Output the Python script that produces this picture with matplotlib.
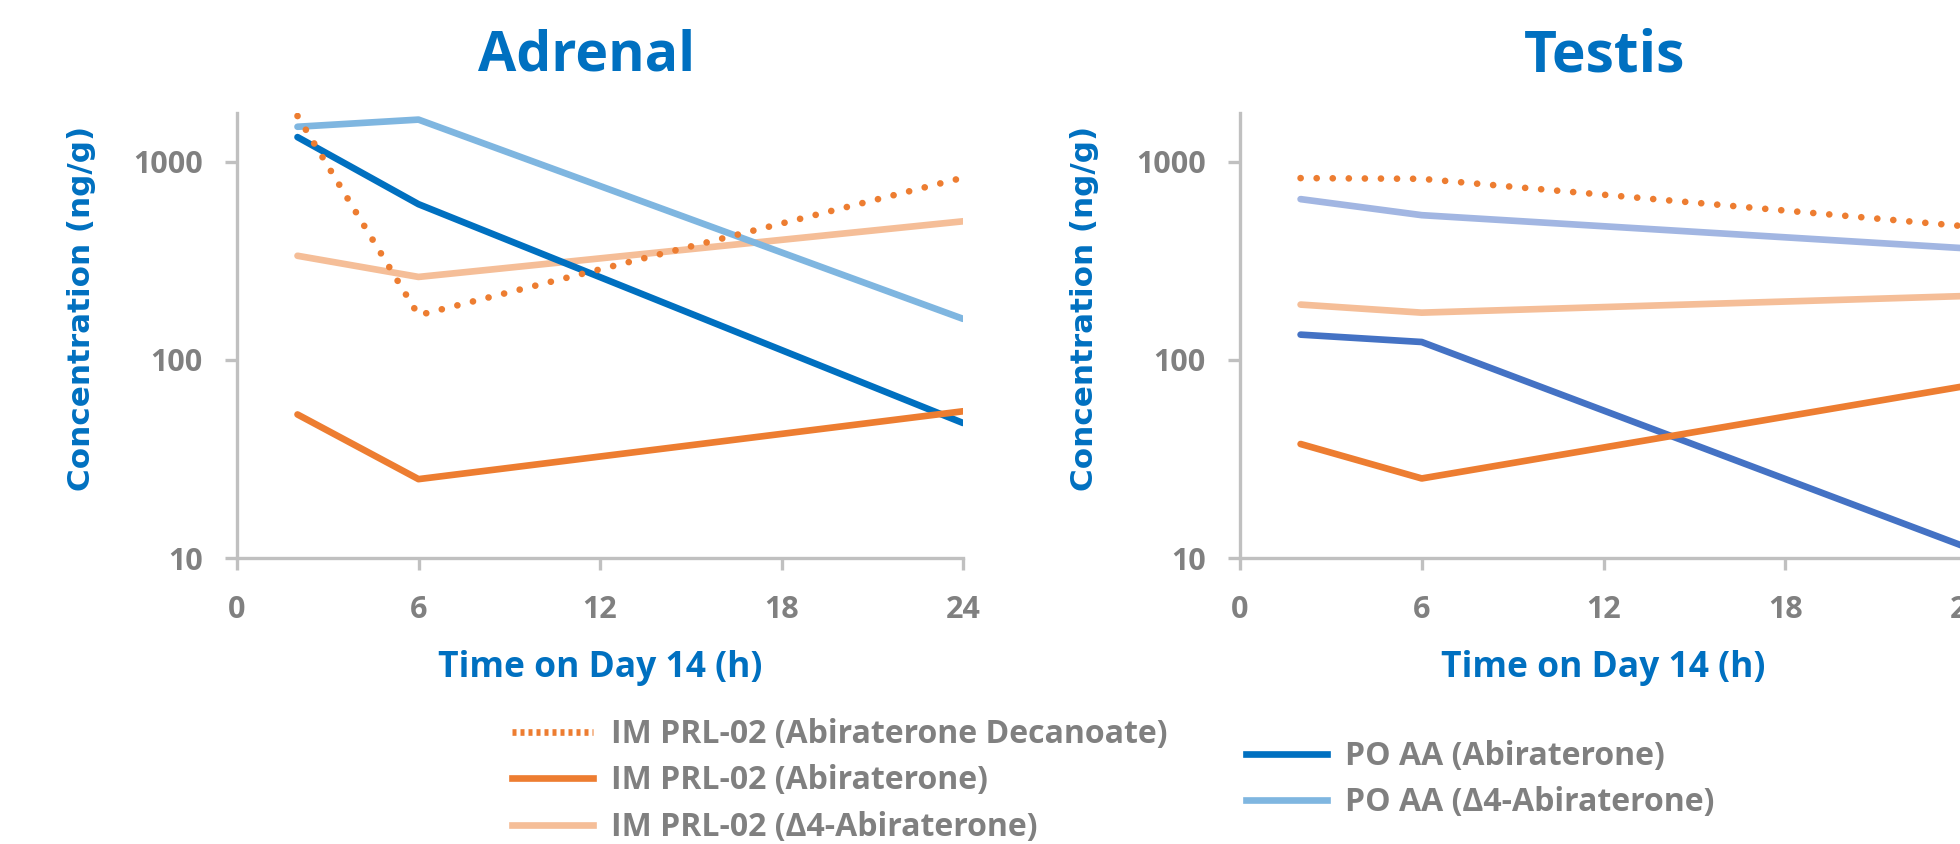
import matplotlib
matplotlib.use("Agg")
import matplotlib.pyplot as plt
from matplotlib.lines import Line2D

# ---- data ----
times = [2, 6, 24]

adrenal_im_decanoate = [1700, 168, 830]
adrenal_im_abi = [53, 25, 55]
adrenal_im_d4 = [335, 262, 500]
adrenal_po_abi = [1330, 610, 48]
adrenal_po_d4 = [1500, 1630, 161]

testis_im_decanoate = [826, 819, 471]
testis_im_abi = [37.6, 25.2, 74]
testis_im_d4 = [190, 173, 210]
testis_po_abi = [134, 123, 11.3]
testis_po_d4 = [647, 537, 365]

panel_titles = ["Adrenal", "Testis"]
series_labels = ["IM PRL-02 (Abiraterone Decanoate)", "IM PRL-02 (Abiraterone)",
                 "IM PRL-02 (\u03944-Abiraterone)", "PO AA (Abiraterone)",
                 "PO AA (\u03944-Abiraterone)"]
x_ticks = [0, 6, 12, 18, 24]
y_ticks = [10, 100, 1000]
y_ticklabels = ["10", "100", "1000"]

# ---- style ----
ORANGE = "#ED7D31"
LORANGE = "#F5BE98"
BLUE = "#0070C0"
LBLUE = "#7FB6E0"
BLUE2 = "#4472C4"
LAV = "#A2B6E2"
GRAY = "#808080"
SPINE = "#C0C0C0"
FONT = "Open Sans"

W, H = 1960, 844
fig = plt.figure(figsize=(W / 100, H / 100), dpi=100)

def px_axes(left, top, right, bottom):
    return fig.add_axes([left / W, 1 - bottom / H, (right - left) / W, (bottom - top) / H])

ax1 = px_axes(237, 113, 963, 558)
ax2 = px_axes(1240, 113, 1967, 558)

LW = 4.8
dot_style = (0, (0.01, 2.4))

def draw(ax, dec, abi, d4, po, pod4, cpo, cpod4):
    ax.plot(times, d4, color=LORANGE, lw=LW, solid_capstyle="round")
    ax.plot(times, pod4, color=cpod4, lw=LW, solid_capstyle="round")
    ax.plot(times, po, color=cpo, lw=LW, solid_capstyle="round")
    ax.plot(times, abi, color=ORANGE, lw=LW, solid_capstyle="round")
    ax.plot(times, dec, color=ORANGE, lw=LW, linestyle=dot_style, dash_capstyle="round")

draw(ax1, adrenal_im_decanoate, adrenal_im_abi, adrenal_im_d4, adrenal_po_abi, adrenal_po_d4, BLUE, LBLUE)
draw(ax2, testis_im_decanoate, testis_im_abi, testis_im_d4, testis_po_abi, testis_po_d4, BLUE2, LAV)

for ax, title in zip([ax1, ax2], panel_titles):
    ax.set_yscale("log")
    ax.set_ylim(10, 1760)
    ax.set_xlim(0, 24)
    ax.set_xticks(x_ticks)
    ax.set_xticklabels([str(t) for t in x_ticks])
    ax.set_yticks(y_ticks)
    ax.set_yticklabels(y_ticklabels)
    ax.yaxis.set_minor_locator(matplotlib.ticker.NullLocator())
    for s in ["top", "right"]:
        ax.spines[s].set_visible(False)
    for s in ["left", "bottom"]:
        ax.spines[s].set_color(SPINE)
        ax.spines[s].set_linewidth(2.4)
    ax.tick_params(axis="both", color=SPINE, width=2.4, length=8.5, labelcolor=GRAY)
    ax.tick_params(axis="y", pad=16)
    ax.tick_params(axis="x", pad=18)
    for lab in ax.get_xticklabels() + ax.get_yticklabels():
        lab.set_fontfamily(FONT)
        lab.set_fontweight("bold")
        lab.set_fontsize(22)
    ax.set_ylabel("Concentration (ng/g)", family="DejaVu Sans", fontweight="bold",
                  fontsize=22.3, color=BLUE)
    ax.yaxis.set_label_coords(-0.194, 0.56)
    ax.set_xlabel("Time on Day 14 (h)", family=FONT, fontweight="bold", fontsize=25.5, color=BLUE)
    ax.xaxis.set_label_coords(0.5, -0.206)
    ax.patch.set_alpha(0)

fig.text(587 / W, 1 - 56 / H, panel_titles[0], family=FONT, fontweight="bold", fontsize=40,
         color=BLUE, ha="center", va="center")
fig.text(1605 / W, 1 - 56 / H, panel_titles[1], family=FONT, fontweight="bold", fontsize=41,
         color=BLUE, ha="center", va="center")

# legends
h1 = [Line2D([], [], color=ORANGE, lw=LW, linestyle=(0, (0.6, 0.6))),
      Line2D([], [], color=ORANGE, lw=LW),
      Line2D([], [], color=LORANGE, lw=LW)]
h2 = [Line2D([], [], color=BLUE, lw=LW),
      Line2D([], [], color=LBLUE, lw=LW)]
common = dict(frameon=False, handlelength=2.55, handletextpad=0.55, labelspacing=0.42,
              borderaxespad=0, borderpad=0,
              prop={"family": FONT, "weight": "bold", "size": 23})
leg1 = fig.legend(h1, series_labels[:3], loc="upper left",
                  bbox_to_anchor=(512 / W, 1 - 718 / H), **common)
leg2 = fig.legend(h2, series_labels[3:], loc="upper left",
                  bbox_to_anchor=(1246 / W, 1 - 740 / H), **common)
for leg in (leg1, leg2):
    for t in leg.get_texts():
        t.set_color(GRAY)

fig.savefig("out.png", dpi=100)
